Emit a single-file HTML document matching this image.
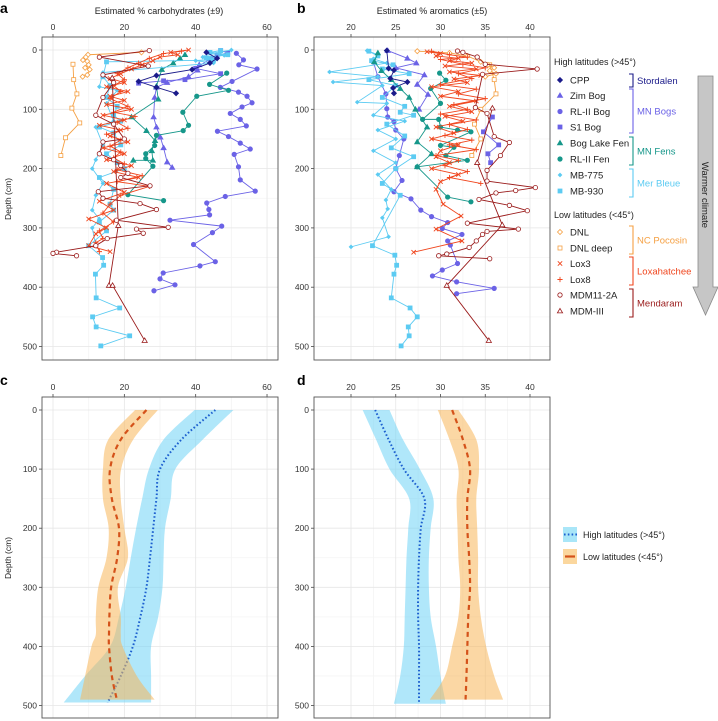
<!DOCTYPE html>
<html><head><meta charset="utf-8"><style>
html,body{margin:0;padding:0;background:#fff;}
svg{display:block;font-family:"Liberation Sans",Arial,sans-serif;}
</style></head><body>
<svg id="fig" width="718" height="721" viewBox="0 0 718 721"></svg>
<script>
// ---------- Panel a data: [estimated % carbohydrates, depth cm] ----------
const aCPP=[[43,4],[46,14],[44,22],[39,33],[29,43],[24,53],[29,63],[34.5,73]];
const aZim=[[41,25],[40.5,34],[38,45],[32,55],[29,63],[28.5,80],[28.2,113],[29,130],[30.1,147],[31,165],[32,189],[33.4,198]];
const aRL2Bog=[[51.4,5.6],[53.4,16.7],[52.1,25],[57.2,32],[50.2,53],[46.9,63],[52,71],[54.4,78],[55.8,89],[53,96],[49.7,107],[52.5,117],[54.2,128],[46.1,137],[49.2,146],[52.5,157],[55.3,167],[50.8,176],[52,197],[52.5,219],[56.7,238],[48.3,247],[43.1,258],[43.7,269],[43.9,278],[32.8,287],[47.3,297],[44.7,308],[39.4,328],[45.5,357],[41.2,364],[30.9,376],[30,386],[34.2,396],[28.3,406]];
const aS1=[[47,1],[49,5],[46,9],[44,15],[40,31],[47,40],[37,50],[31,52],[24,56]];
const aBLF=[[37,8],[35.6,14],[33.7,22],[30.5,33],[29,61],[29.5,83],[22,113],[26.2,136],[28.6,153],[27.7,170],[28,186],[22.5,186]];
const aRL2Fen=[[48.7,39],[43.9,58],[49.2,68],[40.3,78],[36.4,105],[38,127],[36.5,136],[29,144],[28.5,161],[26,175],[26,183],[28,196],[21,244],[31,254]];
const aMB775=[[50,0],[47,3],[44,6],[48,9],[42,12],[46,15],[40,18],[45,22],[14,38],[13,62],[18,68],[15,90],[17,120],[12,130],[14,160],[12,185],[11,200],[14,225],[12,245],[11,270],[13,285],[11,300],[12,330]];
const aMB930=[[47,1],[44,4],[49,8],[43,13],[45,17],[15,20],[14,45],[16,60],[15,80],[18,95],[17,110],[19,120],[13,130],[17,140],[19,160],[15,175],[18,190],[20,200],[13,215],[17,235],[16,260],[17,270],[13,290],[15,305],[10,330],[13.9,350],[14.2,363],[11.9,378],[12.1,418],[18.7,435],[11.1,450],[12.1,467],[21.5,482],[13.4,499]];
const aLox3=[[38,0],[33,4],[35,8],[30,12],[28,18],[25,25],[22,32],[19,40],[16,48],[20,55],[15,62],[21,70],[16,78],[20,85],[15,92],[22,100],[14,110],[20,118],[13,127],[19,135],[16,145],[21,155],[14,165],[20,175],[15,185],[22,195],[17,205],[24,215],[15,225],[20,240],[13,255],[17,270],[10,285],[15,300],[12,310],[10,330],[16,340]];
const aLox8=[[36,2],[31,6],[27,14],[24,22],[21,30],[18,40],[20,50],[17,60],[19,70],[16,82],[21,95],[17,105],[23,112],[18,122],[21,132],[15,142],[19,152],[16,162],[19,172],[17,182],[20,192],[18,202],[25,212],[18,222],[27,230],[19,245],[16,260],[14,275],[17,290],[13,305],[14,318],[12,325],[13,340]];
const aMDM11=[[27,1],[13,12],[26.7,27],[14,42],[17,55],[14,80],[12,110],[17,125],[20,150],[14,155],[13,175],[17,185],[19,195],[21,208],[19,215],[27.2,229],[12.7,239],[14,250],[24.4,259],[29,269],[17.8,287],[32.3,299],[23.4,302],[25.3,309],[15.2,318],[12,330],[1,341],[0,343],[6.6,347]];
const aMDM3=[[16.6,47],[18.3,296],[15.7,397],[16.7,397],[25.7,490]];
const aDNL=[[24.8,4],[9.8,8],[9.2,12],[8.4,17],[9.6,19],[10,25],[9,30],[10.3,33],[9.6,42],[8.3,45]];
const aDNLdeep=[[5.6,24],[5.8,50],[6.7,74],[5.3,98],[7.5,123],[3.5,148],[2.2,178]];
// ---------- Panel b data: [estimated % aromatics, depth cm] ----------
const bCPP=[[24.0,1],[24.2,31],[24.8,34],[24.4,48],[26.3,54],[24.7,64],[24.8,73]];
const bZim=[[24.1,1],[26.3,14],[27.3,22],[25,30],[28.2,42],[27.4,58],[28.6,75],[27.6,100]];
const bRL2Bog=[[22.5,20],[23,45],[23.9,74],[24.0,99],[24.1,113],[24.8,121],[25.0,135],[25.9,150],[25.4,178],[25.0,200],[25.7,220],[24.8,239],[26.7,251],[27.8,270],[29.0,281],[30.8,291],[30.2,301],[32.4,311],[30.8,322],[31.1,329],[31.9,360],[30.2,371],[29.1,381],[31.8,391],[36.0,402],[31.8,411]];
const bS1=[[35.8,113],[34.8,138],[36.5,160],[35.3,175],[35.6,190]];
const bBLF=[[23,5],[22.6,20],[23.4,35],[24.5,50],[25.5,65],[26.5,80],[27.2,100],[28.5,130],[27.4,155],[29,175],[27.4,197]];
const bRL2Fen=[[29.9,39],[30.6,51],[28.9,65],[30.0,90],[28.0,117],[29.8,117],[30.0,130],[31.9,135],[33.4,138],[30.0,161],[31.5,164],[30.6,178],[33.0,186],[27.4,197],[30.8,248],[33.4,256]];
const bMB775=[[21.8,1],[23,8],[22.5,15],[24,22],[17.6,37],[23,45],[18,54],[23.5,60],[20.7,88],[24,90],[22.5,110],[26,120],[23,135],[25,150],[22.5,170],[25,190],[23,210],[24.5,235],[23.9,253],[24.1,268],[23.5,283],[24.2,315],[20.0,332]];
const bMB930=[[22,2],[23,10],[22.3,18],[24.7,25],[23.5,32],[26.5,40],[22,50],[25,60],[23.5,80],[26,95],[25.5,105],[27,110],[24,125],[26,145],[24.5,165],[27,180],[25,200],[23.5,225],[25.5,245],[22.4,330],[24.9,346],[25.1,363],[24.8,378],[24.5,418],[26.6,435],[27.4,450],[26.4,467],[26.5,482],[25.6,499]];
const bLox3=[[28.5,3],[30,6],[29.5,10],[32,14],[31,18],[33.5,22],[30.5,27],[34,32],[31,37],[34.5,43],[31.5,49],[33,55],[29,62],[32,70],[30,78],[34,86],[31,95],[33.5,104],[30.5,112],[32.5,120],[29.5,130],[31.5,140],[29,150],[32,160],[30,170],[29.5,180],[31,190],[29,200],[32,210],[30,222],[29.5,235],[30.3,260],[32.3,280],[29.5,302],[32.4,322],[27,341]];
const bLox8=[[29,2],[31,8],[33,12],[30,16],[32.5,24],[35,30],[32,40],[33.5,48],[30,58],[34,66],[32,74],[35,82],[31.5,92],[33,100],[30,108],[34,118],[31,126],[33,134],[30.5,144],[33.5,152],[31,160],[34,168],[29.5,178],[32,186],[30.5,195],[33,205],[31,215],[34.5,225]];
const bMDM11=[[31.9,1.7],[32.5,3.9],[34.1,11.8],[35.0,24],[40.8,32],[34.7,41],[33.9,97],[35.2,107],[36.0,146],[37.7,156],[36.7,178],[35.2,203],[35.2,221],[40.6,232],[38.4,237],[36.2,241],[34.3,252],[37.7,262],[39.7,271],[33.0,292],[38.7,302],[35.2,306],[34.7,311],[34.0,322],[33.2,333],[30.7,344],[29.8,347],[35.5,352]];
const bMDM3=[[35.8,98],[34.1,190],[36.9,295],[30.7,397],[35.4,490]];
const bDNL=[[27.4,2],[31,5],[33,10],[34.5,20],[35.3,25],[36,30],[35.5,35],[36.2,40],[35,45]];
const bDNLdeep=[[35.5,25],[36,50],[36.2,74],[34.5,100],[33.8,125],[34.5,150],[33.5,178]];
// ---------- Panel c / d smoothed profiles ----------
const cHighDepth=[0,50,100,150,200,250,300,350,400,450,495];
const cHighMean=[45.5,36,30,29,28.1,27.2,26.2,24.5,22.4,19,15.3];
const cHighLo=[39.7,31,26.9,25,23.3,21.8,20.4,18.5,16,9,3];
const cHighHi=[50.6,42,34.3,33,31.4,31,30.7,29.5,27.5,27.5,27.5];
const cLowDepth=[0,50,100,150,200,250,300,350,380,400,450,490];
const cLowMean=[26.2,19,16,16.5,18.5,18,16.3,15.8,15.7,15.7,16.5,17.9];
const cLowLo=[23,15.5,14,14,15.6,15,12.7,12,12,10.8,9,7.6];
const cLowHi=[29.4,22.5,19.1,19,20,21,18.2,19,19,19.5,23.5,28.5];
const dHighDepth=[0,50,100,150,200,250,300,350,400,450,497];
const dHighMean=[22.7,24.2,25.9,28.2,27.8,27.6,27.5,27.5,27.6,27.6,27.6];
const dHighLo=[21.3,22.8,24.3,26.5,26.4,26.2,26.1,26,25.9,25.5,24.8];
const dHighHi=[24.3,25.8,27.7,29.2,28.9,28.7,28.7,28.9,29.5,30,30.6];
const dLowDepth=[0,50,100,150,200,250,300,350,400,450,490];
const dLowMean=[31.3,32.5,33.3,33,33,33.2,33.3,33.1,33,32.9,32.8];
const dLowLo=[29.7,31,32,31.8,31.9,32,32.2,32,31.3,30.5,28.8];
const dLowHi=[32,34,34.3,34,34.1,34.2,34.2,34.5,35.1,36,37];
// ---------- ticks ----------
const carbTicks=[0,20,40,60];
const aromTicks=[20,25,30,35,40];
const depthTicks=[0,100,200,300,400,500];

const NS="http://www.w3.org/2000/svg";
const svg=document.getElementById('fig');
function el(tag,attrs,parent,text){const e=document.createElementNS(NS,tag);for(const k in attrs)e.setAttribute(k,attrs[k]);if(text!==undefined)e.textContent=text;(parent||svg).appendChild(e);return e;}

const C={navy:'#1b1b8a',bog:'#6b62e6',fen:'#16978a',mer:'#5ccbf2',poc:'#f5a043',lox:'#f0461e',mdm:'#9a1b1b'};

function makePanel(o){
  const g=el('g',{},svg);
  
  
  const xs=v=>o.px0+(v-o.v0)*o.k;
  const ys=d=>o.py0+d*o.dk;
  // minor grid
  for(let i=0;i<o.ticks.length-1;i++){const m=(o.ticks[i]+o.ticks[i+1])/2;el('line',{x1:xs(m),x2:xs(m),y1:o.top,y2:o.bot,stroke:'#f4f4f4','stroke-width':0.8},g);}
  if(o.extraMinor)o.extraMinor.forEach(m=>el('line',{x1:xs(m),x2:xs(m),y1:o.top,y2:o.bot,stroke:'#f4f4f4','stroke-width':0.8},g));
  for(let i=0;i<depthTicks.length-1;i++){const m=(depthTicks[i]+depthTicks[i+1])/2;el('line',{x1:o.left,x2:o.right,y1:ys(m),y2:ys(m),stroke:'#f4f4f4','stroke-width':0.8},g);}
  // major grid + ticks
  o.ticks.forEach(t=>{el('line',{x1:xs(t),x2:xs(t),y1:o.top,y2:o.bot,stroke:'#e6e6e6','stroke-width':0.8},g);
    el('line',{x1:xs(t),x2:xs(t),y1:o.top-3,y2:o.top,stroke:'#444','stroke-width':0.8},g);
    const tl=el('text',{x:xs(t),y:o.top-7,'font-size':8.5,'text-anchor':'middle',fill:'#333'},g,String(t));
    });
  depthTicks.forEach(t=>{el('line',{x1:o.left,x2:o.right,y1:ys(t),y2:ys(t),stroke:'#e6e6e6','stroke-width':0.8},g);
    el('line',{x1:o.left-3,x2:o.left,y1:ys(t),y2:ys(t),stroke:'#444','stroke-width':0.8},g);
    const tl=el('text',{x:o.left-5,y:ys(t)+3,'font-size':8.5,'text-anchor':'end',fill:'#333'},g,String(t));
    });
  return {g,xs,ys,o};
}
function frame(P){el('rect',{x:P.o.left,y:P.o.top,width:P.o.right-P.o.left,height:P.o.bot-P.o.top,fill:'none',stroke:'#555','stroke-width':0.9},P.g);}

function marker(g,shape,x,y,col,open){
  const f=open?'#fff':col, sw=0.8;
  let m;
  if(shape==='circle')m=el('circle',{cx:x,cy:y,r:2.2,fill:f,stroke:col,'stroke-width':sw},g);
  else if(shape==='square')m=el('rect',{x:x-2,y:y-2,width:4,height:4,fill:f,stroke:col,'stroke-width':sw},g);
  else if(shape==='tri')m=el('polygon',{points:`${x},${y-2.6} ${x+2.6},${y+1.9} ${x-2.6},${y+1.9}`,fill:f,stroke:col,'stroke-width':sw},g);
  else if(shape==='diamond')m=el('polygon',{points:`${x},${y-2.5} ${x+2.5},${y} ${x},${y+2.5} ${x-2.5},${y}`,fill:f,stroke:col,'stroke-width':sw},g);
  else if(shape==='sdiamond')m=el('polygon',{points:`${x},${y-1.8} ${x+1.8},${y} ${x},${y+1.8} ${x-1.8},${y}`,fill:f,stroke:col,'stroke-width':sw},g);
  else if(shape==='x'){m=el('path',{d:`M${x-2.2},${y-2.2}L${x+2.2},${y+2.2}M${x-2.2},${y+2.2}L${x+2.2},${y-2.2}`,stroke:col,'stroke-width':0.9,fill:'none'},g);}
  else if(shape==='plus'){m=el('path',{d:`M${x-2.6},${y}L${x+2.6},${y}M${x},${y-2.6}L${x},${y+2.6}`,stroke:col,'stroke-width':0.9,fill:'none'},g);}
  return m;
}
function series(P,data,shape,col,open,name){
  const g=el('g',{},P.g);
  
  
  el('polyline',{points:data.map(p=>P.xs(p[0])+','+P.ys(p[1])).join(' '),fill:'none',stroke:col,'stroke-width':0.9},g);
  data.forEach(p=>{const m=marker(g,shape,P.xs(p[0]),P.ys(p[1]),col,open);});
}
function smoothPath(pts){
  let d=`M${pts[0][0]},${pts[0][1]}`;
  for(let i=0;i<pts.length-1;i++){const p0=pts[Math.max(0,i-1)],p1=pts[i],p2=pts[i+1],p3=pts[Math.min(pts.length-1,i+2)];
    const c1=[p1[0]+(p2[0]-p0[0])/6,p1[1]+(p2[1]-p0[1])/6],c2=[p2[0]-(p3[0]-p1[0])/6,p2[1]-(p3[1]-p1[1])/6];
    d+=`C${c1[0]},${c1[1]} ${c2[0]},${c2[1]} ${p2[0]},${p2[1]}`;}
  return d;
}
function band(P,depth,mean,lo,hi,fill,lineCol,dash,lw,name){
  const g=el('g',{},P.g);
  
  
  const left=depth.map((d,i)=>[P.xs(lo[i]),P.ys(d)]);
  const right=depth.map((d,i)=>[P.xs(hi[i]),P.ys(d)]).reverse();
  let dpath=smoothPath(left);
  const r=smoothPath(right);
  dpath+='L'+r.slice(1)+'Z';
  const b=el('path',{d:dpath,fill:fill,'fill-opacity':0.55,stroke:'none'},g);
  
  const l=el('path',{d:smoothPath(depth.map((d,i)=>[P.xs(mean[i]),P.ys(d)])),fill:'none',stroke:lineCol,'stroke-width':lw,'stroke-dasharray':dash},g);
  
}

const geoTop={top:37,bot:360,py0:50,dk:0.593};
const geoBot={top:397,bot:718,py0:410,dk:0.591};
const carbX={left:42,right:278,px0:53,v0:0,k:3.567,ticks:carbTicks};
const aromX={left:314,right:550,px0:351,v0:20,k:8.95,ticks:aromTicks};

const A=makePanel(Object.assign({name:'panel-a'},carbX,geoTop));
series(A,aDNLdeep,'square',C.poc,true,'a-dnl-deep');
series(A,aDNL,'diamond',C.poc,true,'a-dnl');
series(A,aRL2Bog,'circle',C.bog,false,'a-rl2-bog');
series(A,aZim,'tri',C.bog,false,'a-zim-bog');
series(A,aS1,'square',C.bog,false,'a-s1-bog');
series(A,aRL2Fen,'circle',C.fen,false,'a-rl2-fen');
series(A,aBLF,'tri',C.fen,false,'a-bog-lake-fen');
series(A,aMB930,'square',C.mer,false,'a-mb930');
series(A,aMB775,'sdiamond',C.mer,false,'a-mb775');
series(A,aCPP,'diamond',C.navy,false,'a-cpp');
series(A,aLox3,'x',C.lox,false,'a-lox3');
series(A,aLox8,'plus',C.lox,false,'a-lox8');
series(A,aMDM3,'tri',C.mdm,true,'a-mdm-iii');
series(A,aMDM11,'circle',C.mdm,true,'a-mdm11-2a');
frame(A);

const B=makePanel(Object.assign({name:'panel-b'},aromX,geoTop));
series(B,bDNLdeep,'square',C.poc,true,'b-dnl-deep');
series(B,bDNL,'diamond',C.poc,true,'b-dnl');
series(B,bRL2Bog,'circle',C.bog,false,'b-rl2-bog');
series(B,bZim,'tri',C.bog,false,'b-zim-bog');
series(B,bS1,'square',C.bog,false,'b-s1-bog');
series(B,bMB930,'square',C.mer,false,'b-mb930');
series(B,bMB775,'sdiamond',C.mer,false,'b-mb775');
series(B,bRL2Fen,'circle',C.fen,false,'b-rl2-fen');
series(B,bBLF,'tri',C.fen,false,'b-bog-lake-fen');
series(B,bCPP,'diamond',C.navy,false,'b-cpp');
series(B,bLox3,'x',C.lox,false,'b-lox3');
series(B,bLox8,'plus',C.lox,false,'b-lox8');
series(B,bMDM3,'tri',C.mdm,true,'b-mdm-iii');
series(B,bMDM11,'circle',C.mdm,true,'b-mdm11-2a');
frame(B);

const Cp=makePanel(Object.assign({name:'panel-c'},carbX,geoBot));
band(Cp,cHighDepth,cHighMean,cHighLo,cHighHi,'#6fd3f5','#1c5fcf','1.6 2.2',2,'c-high-latitudes');
band(Cp,cLowDepth,cLowMean,cLowLo,cLowHi,'#f7b65a','#d4521a','5 4',2.2,'c-low-latitudes');
frame(Cp);
const D=makePanel(Object.assign({name:'panel-d'},aromX,geoBot));
band(D,dHighDepth,dHighMean,dHighLo,dHighHi,'#6fd3f5','#1c5fcf','1.6 2.2',2,'d-high-latitudes');
band(D,dLowDepth,dLowMean,dLowLo,dLowHi,'#f7b65a','#d4521a','5 4',2.2,'d-low-latitudes');
frame(D);

// titles, letters
function txt(attrs,s,name){const t=el('text',attrs,svg,s);return t;}
txt({x:0,y:13,'font-size':14,'font-weight':'bold'},'a','panel-letter-a');
txt({x:297,y:13,'font-size':14,'font-weight':'bold'},'b','panel-letter-b');
txt({x:0,y:385,'font-size':14,'font-weight':'bold'},'c','panel-letter-c');
txt({x:297,y:385,'font-size':14,'font-weight':'bold'},'d','panel-letter-d');
txt({x:159,y:14,'font-size':9,'text-anchor':'middle',fill:'#222'},'Estimated % carbohydrates (±9)','x-axis-title-a');
txt({x:432,y:14,'font-size':9,'text-anchor':'middle',fill:'#222'},'Estimated % aromatics (±5)','x-axis-title-b');
txt({x:0,y:0,'font-size':8.5,'text-anchor':'middle',transform:'translate(11,199) rotate(-90)',fill:'#222'},'Depth (cm)','y-axis-title-a');
txt({x:0,y:0,'font-size':8.5,'text-anchor':'middle',transform:'translate(11,558) rotate(-90)',fill:'#222'},'Depth (cm)','y-axis-title-c');

// legend
const legendItems=[
 ['CPP','diamond',C.navy,false,80],['Zim Bog','tri',C.bog,false,95.5],['RL-II Bog','circle',C.bog,false,111.5],['S1 Bog','square',C.bog,false,127],
 ['Bog Lake Fen','tri',C.fen,false,143],['RL-II Fen','circle',C.fen,false,159],['MB-775','sdiamond',C.mer,false,175],['MB-930','square',C.mer,false,191],
 ['DNL','diamond',C.poc,true,232],['DNL deep','square',C.poc,true,248],['Lox3','x',C.lox,false,263.5],['Lox8','plus',C.lox,false,279.5],
 ['MDM11-2A','circle',C.mdm,true,295],['MDM-III','tri',C.mdm,true,311]];
const lg=el('g',{},svg);


txt({x:554,y:65,'font-size':9,fill:'#222'},'High latitudes (>45°)','legend-heading-high');
txt({x:554,y:218,'font-size':9,fill:'#222'},'Low latitudes (<45°)','legend-heading-low');
legendItems.forEach(it=>{
  const big=it[1]==='sdiamond'?'sdiamond':it[1];
  const m=marker(lg,big,560,it[4],it[2],it[3]);
  
  txt({x:570,y:it[4]+3.5,'font-size':9.5,fill:'#222'},it[0],'legend-entry');
});
const groups=[['Stordalen',C.navy,74,87],['MN Bogs',C.bog,89,133],['MN Fens',C.fen,137,165],['Mer Bleue',C.mer,169,197],['NC Pocosin',C.poc,226,254],['Loxahatchee',C.lox,257,285],['Mendaram',C.mdm,289,317]];
groups.forEach(gp=>{
  const b=el('path',{d:`M629,${gp[2]}H633V${gp[3]}H629`,fill:'none',stroke:gp[1],'stroke-width':1.1},lg);
  
  txt({x:637,y:(gp[2]+gp[3])/2+3.5,'font-size':9.5,fill:gp[1]},gp[0],'legend-group-label');
});
const arr=el('polygon',{points:'698,76 713,76 713,287 718,287 705.5,315 693,287 698,287',fill:'#c6c6c6',stroke:'#8a8a8a','stroke-width':0.8},svg);

txt({x:0,y:0,'font-size':9.5,'text-anchor':'middle',transform:'translate(702,195) rotate(90)',fill:'#222'},'Warmer climate','warmer-climate-label');

// bottom legend
const bl=el('g',{},svg);


el('rect',{x:563,y:527,width:14,height:15,fill:'#a9e6f8'},bl);
el('line',{x1:564,x2:577,y1:534.5,y2:534.5,stroke:'#1c5fcf','stroke-width':2,'stroke-dasharray':'1.6 2.2'},bl);
el('rect',{x:563,y:549,width:14,height:15,fill:'#fbd79e'},bl);
el('line',{x1:565,x2:575,y1:556.5,y2:556.5,stroke:'#d4521a','stroke-width':2.2},bl);
txt({x:583,y:538,'font-size':9,fill:'#222'},'High latitudes (>45°)','legend-entry-high');
txt({x:583,y:560,'font-size':9,fill:'#222'},'Low latitudes (<45°)','legend-entry-low');
</script>
</body></html>
